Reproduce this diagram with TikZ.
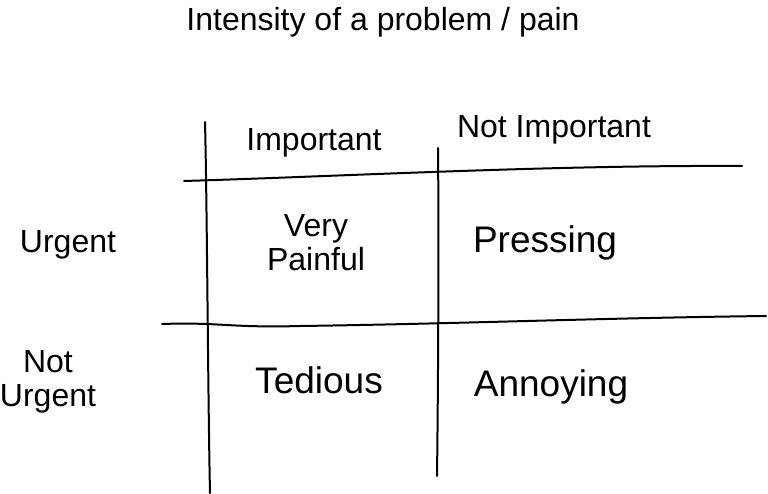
\documentclass[tikz,border=0pt]{standalone}
\usepackage{fontspec}
\setmainfont{Liberation Sans}

\begin{document}
\begin{tikzpicture}[x=1pt,y=-1pt,line width=2pt,line cap=round,
  every node/.style={font=\fontsize{32}{34}\selectfont,align=center,inner sep=0pt},
  big/.style={font=\fontsize{37}{40}\selectfont}]
\useasboundingbox (0,0) rectangle (768,494);

% grid end points
\coordinate (L1) at (205,122);
\coordinate (L2) at (210,493);
\coordinate (R1) at (438,148);
\coordinate (R2) at (437,476);
\coordinate (H1) at (184,181);
\coordinate (H2) at (742,166);
\coordinate (G1) at (162,324);
\coordinate (G2) at (766,316);

\draw (L1) .. controls (207,200) and (208,400) .. (L2);
\draw (R1) .. controls (439,250) and (438,400) .. (R2);
\draw (H1) .. controls (350,176) and (550,165) .. (H2);
\draw (G1) .. controls (220,322) and (230,328) .. (300,326)
           .. controls (450,324) and (600,318) .. (G2);

% labels
\node (T) at (383,22) {Intensity of a problem / pain};
\node (I) at (314,143) {Important};
\node (NI) at (554,130) {Not Important};
\node (U) at (68,245) {Urgent};
\node (NU) at (48,382) {Not\\Urgent};
\node (VP) at (316,243) {Very\\Painful};
\node[big] (P) at (545,243) {Pressing};
\node[big] (Td) at (319,380) {Tedious};
\node[big] (A) at (551,387) {Annoying};
\end{tikzpicture}
\end{document}
